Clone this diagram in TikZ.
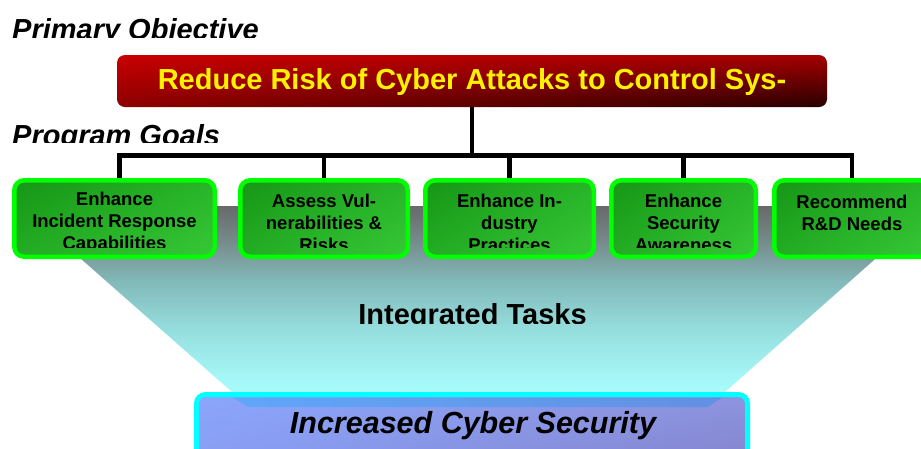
\documentclass[tikz,border=0pt]{standalone}
\usepackage{fontspec}
\setmainfont{Liberation Sans}
\usetikzlibrary{shadings}

\definecolor{objUL}{RGB}{200,0,0}
\definecolor{objUR}{RGB}{165,0,0}
\definecolor{objLL}{RGB}{140,0,0}
\definecolor{objLR}{RGB}{40,0,0}
\definecolor{goalUL}{RGB}{22,150,22}
\definecolor{goalUR}{RGB}{40,180,40}
\definecolor{goalLL}{RGB}{36,172,36}
\definecolor{goalLR}{RGB}{54,200,54}
\definecolor{goalborder}{RGB}{0,255,0}
\definecolor{resultUL}{RGB}{138,166,252}
\definecolor{resultUR}{RGB}{142,148,222}
\definecolor{resultLL}{RGB}{136,156,242}
\definecolor{resultLR}{RGB}{130,128,202}
\definecolor{resultborder}{RGB}{0,255,255}
\definecolor{bandL}{RGB}{96,166,250}
\definecolor{bandR}{RGB}{98,144,226}
\definecolor{funnelTop}{RGB}{104,106,106}
\definecolor{funnelA}{RGB}{118,138,138}
\definecolor{funnelB}{RGB}{130,184,184}
\definecolor{funnelC}{RGB}{150,222,222}
\definecolor{funnelD}{RGB}{166,248,248}
\definecolor{funnelBottom}{RGB}{170,255,255}

\pgfdeclareverticalshading{funnelfade}{100bp}{color(0bp)=(funnelBottom); color(25bp)=(funnelBottom); color(31.7bp)=(funnelD); color(44.2bp)=(funnelC); color(56.6bp)=(funnelB); color(66.5bp)=(funnelA); color(75bp)=(funnelTop); color(100bp)=(funnelTop)}

\tikzset{
    treeline/.style={line width=4.5pt, black, line join=miter},
    objbox/.style={rounded corners=8pt, minimum width=710pt, minimum height=52pt, inner sep=0pt,
        upper left=objUL, upper right=objUR, lower left=objLL, lower right=objLR,
        text=yellow, text height=20pt, text depth=3pt, font=\fontsize{29}{34}\selectfont\bfseries},
    goalbox/.style={draw=goalborder, line width=4.5pt, rounded corners=10pt, minimum height=76.5pt, inner sep=0pt,
        upper left=goalUL, upper right=goalUR, lower left=goalLL, lower right=goalLR},
    goaltext/.style={anchor=north, inner sep=0pt, align=center, font=\fontsize{18.5}{22}\selectfont\bfseries},
    resultbox/.style={draw=resultborder, line width=5pt, rounded corners=9pt, minimum width=551pt, minimum height=83pt, inner sep=0pt,
        upper left=resultUL, upper right=resultUR, lower left=resultLL, lower right=resultLR},
    heading/.style={anchor=base west, inner sep=0pt, font=\fontsize{29}{34}\selectfont\bfseries\itshape},
}

\begin{document}
\begin{tikzpicture}[x=1pt, y=-1pt]
                \useasboundingbox (0,0) rectangle (921,448);

                \clip (0,0) rectangle (921,448);

                \shade[shading=funnelfade] (21,206) -- (935,206) -- (708,407) -- (249,407) -- cycle;

                \node[objbox] (obj) at (472,81) {Reduce Risk of Cyber Attacks to Control Sys-};

                \node[goalbox, minimum width=200.5pt] (g1) at (114.5,218.5) {};

                \node[goalbox, minimum width=167.5pt] (g2) at (324,218.5) {};

                \node[goalbox, minimum width=168.5pt] (g3) at (509.5,218.5) {};

                \node[goalbox, minimum width=144.5pt] (g4) at (683.5,218.5) {};

                \node[goalbox, minimum width=155.5pt] (g5) at (852,218.5) {};

                \coordinate (bar) at (0,155.5);

                \draw[treeline] (obj.south) -- (obj.south |- bar);

                \draw[treeline] ([xshift=5pt]g1.north) |- (g5.north |- bar) -- (g5.north);

                \foreach \g in {g2,g3,g4}
                    \draw[treeline] (\g.north) -- (\g.north |- bar);

                \node[resultbox] (result) at (472,436) {};

                \shade[left color=bandL, right color=bandR] (233,397.5) -- (722,397.5) -- (708,407) -- (248,407) -- cycle;

                \node[anchor=base, inner sep=0pt, font=\fontsize{30.5}{36}\selectfont\bfseries\itshape] (resulttext) at (473,433) {Increased Cyber Security};

                \begin{scope}
                    \clip (0,0) rectangle (921,37) (0,110) rectangle (921,142) (0,185) rectangle (921,247) (0,290) rectangle (921,323.5);

                    \node[heading] (primary) at (12,39) {Primary Objective};

                    \node[heading] (goals) at (12,145) {Program Goals};

                    \node[goaltext, yshift=-13.5pt] (g1t) at (g1.north) {Enhance\\Incident Response\\Capabilities};

                    \node[goaltext, yshift=-16pt] (g2t) at (g2.north) {Assess Vul-\\nerabilities \&\\Risks};

                    \node[goaltext, yshift=-16pt] (g3t) at (g3.north) {Enhance In-\\dustry\\Practices};

                    \node[goaltext, yshift=-16pt] (g4t) at (g4.north) {Enhance\\Security\\Awareness};

                    \node[goaltext, yshift=-16.5pt] (g5t) at (g5.north) {Recommend\\R\&D Needs};

                    \node[anchor=base, inner sep=0pt, font=\fontsize{29}{34}\selectfont\bfseries] (tasks) at (472.5,324) {Integrated Tasks};
                \end{scope}
\end{tikzpicture}
\end{document}
